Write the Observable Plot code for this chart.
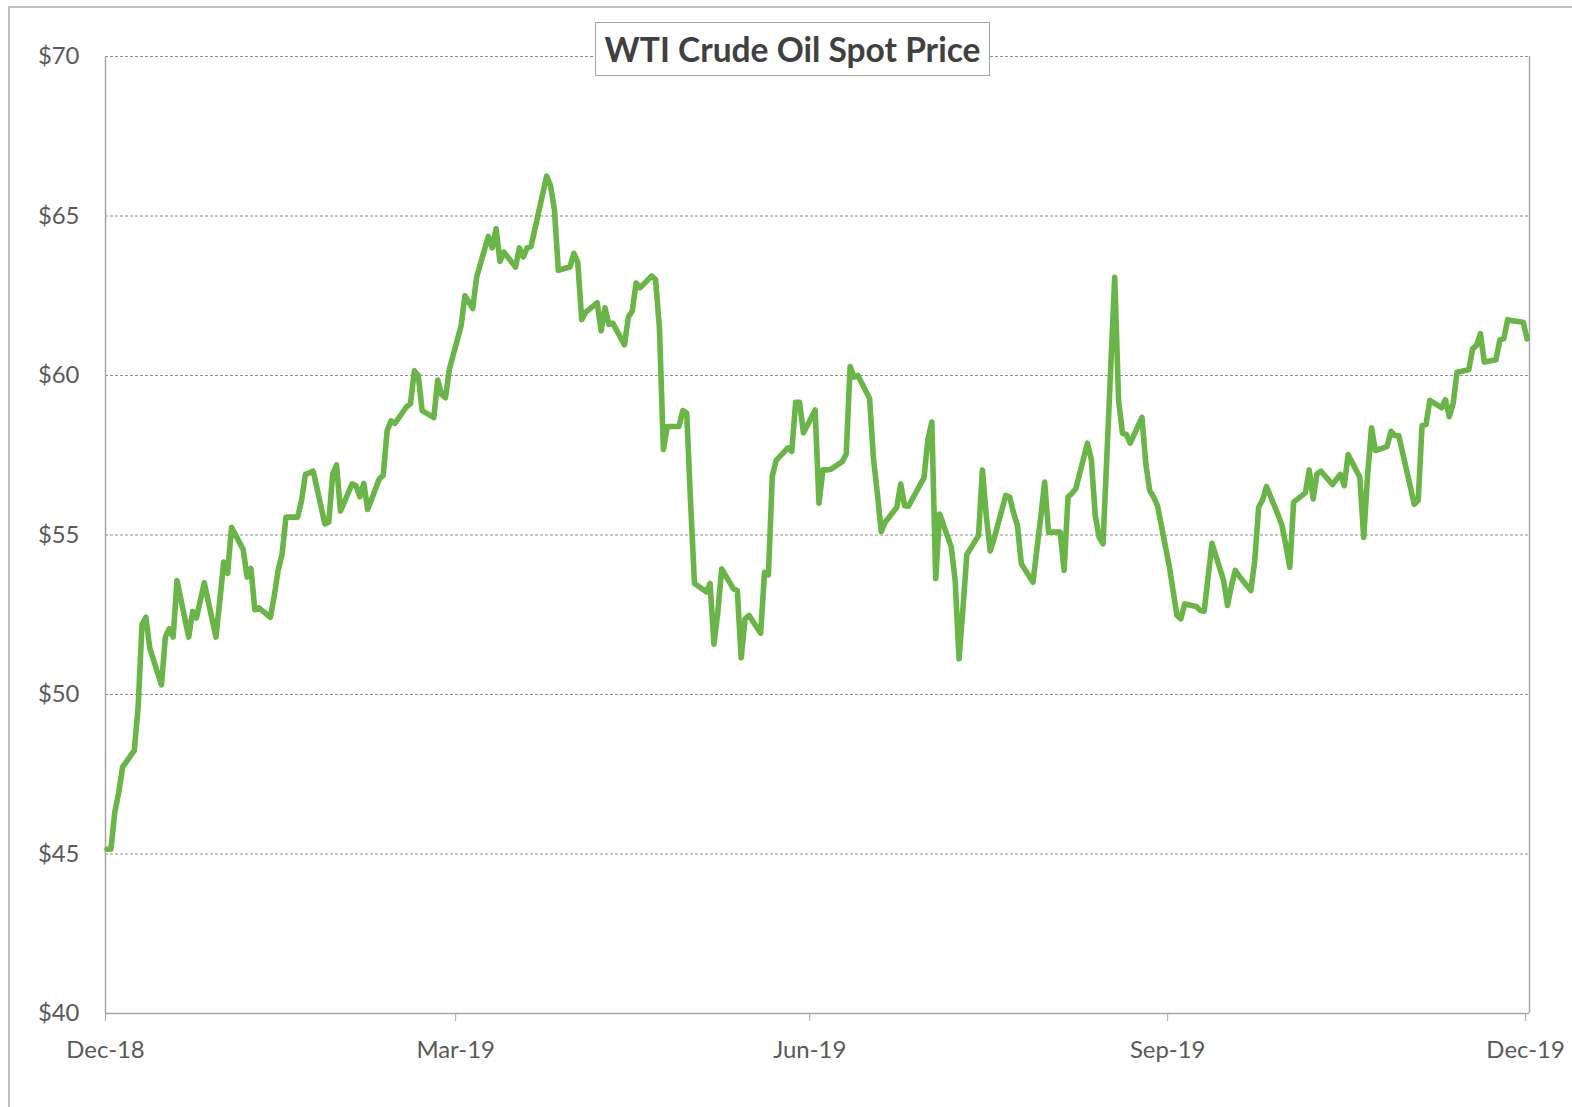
<!DOCTYPE html>
<html><head><meta charset="utf-8">
<script src="https://cdn.jsdelivr.net/npm/d3@7"></script>
<script src="https://cdn.jsdelivr.net/npm/@observablehq/plot@0.6"></script>
<style>
html,body{margin:0;padding:0;background:#fff;overflow:hidden}
#wrap{position:relative;width:1572px;height:1107px;overflow:hidden}
#frame{position:absolute;left:8px;top:6px;width:1700px;height:1300px;border-left:2px solid #bfbfbf;border-top:2px solid #bfbfbf;pointer-events:none}
#title{position:absolute;left:595px;top:22px;width:393px;height:52px;border:1px solid #a6a6a6;background:#fff;display:flex;align-items:center;justify-content:center;font-family:Lato,sans-serif;font-weight:700;color:#404040;white-space:nowrap}
</style></head><body>
<div id="wrap"><div id="chart"></div><div id="frame"></div><div id="title">WTI Crude Oil Spot Price</div></div>
<script>
const titleText = "WTI Crude Oil Spot Price";
const xDomain = [new Date("2018-12-31"), new Date("2020-01-01")];
const yDomain = [40, 70];
const yTicks = [40, 45, 50, 55, 60, 65, 70];
const xTickDates = ["2018-12-31", "2019-03-31", "2019-06-30", "2019-09-30", "2019-12-31"];

const dates = [
"2018-12-31","2019-01-01","2019-01-02","2019-01-03","2019-01-04","2019-01-07","2019-01-08","2019-01-09","2019-01-10","2019-01-11",
"2019-01-14","2019-01-15","2019-01-16","2019-01-17","2019-01-18","2019-01-21","2019-01-22","2019-01-23","2019-01-24","2019-01-25",
"2019-01-28","2019-01-29","2019-01-30","2019-01-31","2019-02-01","2019-02-04","2019-02-05","2019-02-06","2019-02-07","2019-02-08",
"2019-02-11","2019-02-12","2019-02-13","2019-02-14","2019-02-15","2019-02-18","2019-02-19","2019-02-20","2019-02-21","2019-02-22",
"2019-02-25","2019-02-26","2019-02-27","2019-02-28","2019-03-01","2019-03-04","2019-03-05","2019-03-06","2019-03-07","2019-03-08",
"2019-03-11","2019-03-12","2019-03-13","2019-03-14","2019-03-15","2019-03-18","2019-03-19","2019-03-20","2019-03-21","2019-03-22",
"2019-03-25","2019-03-26","2019-03-27","2019-03-28","2019-03-29","2019-04-01","2019-04-02","2019-04-03","2019-04-04","2019-04-05",
"2019-04-08","2019-04-09","2019-04-10","2019-04-11","2019-04-12","2019-04-15","2019-04-16","2019-04-17","2019-04-18","2019-04-19",
"2019-04-22","2019-04-23","2019-04-24","2019-04-25","2019-04-26","2019-04-29","2019-04-30","2019-05-01","2019-05-02","2019-05-03",
"2019-05-06","2019-05-07","2019-05-08","2019-05-09","2019-05-10","2019-05-13","2019-05-14","2019-05-15","2019-05-16","2019-05-17",
"2019-05-20","2019-05-21","2019-05-22","2019-05-23","2019-05-24","2019-05-27","2019-05-28","2019-05-29","2019-05-30","2019-05-31",
"2019-06-03","2019-06-04","2019-06-05","2019-06-06","2019-06-07","2019-06-10","2019-06-11","2019-06-12","2019-06-13","2019-06-14",
"2019-06-17","2019-06-18","2019-06-19","2019-06-20","2019-06-21","2019-06-24","2019-06-25","2019-06-26","2019-06-27","2019-06-28",
"2019-07-01","2019-07-02","2019-07-03","2019-07-04","2019-07-05","2019-07-08","2019-07-09","2019-07-10","2019-07-11","2019-07-12",
"2019-07-15","2019-07-16","2019-07-17","2019-07-18","2019-07-19","2019-07-22","2019-07-23","2019-07-24","2019-07-25","2019-07-26",
"2019-07-29","2019-07-30","2019-07-31","2019-08-01","2019-08-02","2019-08-05","2019-08-06","2019-08-07","2019-08-08","2019-08-09",
"2019-08-12","2019-08-13","2019-08-14","2019-08-15","2019-08-16","2019-08-19","2019-08-20","2019-08-21","2019-08-22","2019-08-23",
"2019-08-26","2019-08-27","2019-08-28","2019-08-29","2019-08-30","2019-09-02","2019-09-03","2019-09-04","2019-09-05","2019-09-06",
"2019-09-09","2019-09-10","2019-09-11","2019-09-12","2019-09-13","2019-09-16","2019-09-17","2019-09-18","2019-09-19","2019-09-20",
"2019-09-23","2019-09-24","2019-09-25","2019-09-26","2019-09-27","2019-09-30","2019-10-01","2019-10-02","2019-10-03","2019-10-04",
"2019-10-07","2019-10-08","2019-10-09","2019-10-10","2019-10-11","2019-10-14","2019-10-15","2019-10-16","2019-10-17","2019-10-18",
"2019-10-21","2019-10-22","2019-10-23","2019-10-24","2019-10-25","2019-10-28","2019-10-29","2019-10-30","2019-10-31","2019-11-01",
"2019-11-04","2019-11-05","2019-11-06","2019-11-07","2019-11-08","2019-11-11","2019-11-12","2019-11-13","2019-11-14","2019-11-15",
"2019-11-18","2019-11-19","2019-11-20","2019-11-21","2019-11-22","2019-11-25","2019-11-26","2019-11-27","2019-11-28","2019-12-02",
"2019-12-03","2019-12-04","2019-12-05","2019-12-06","2019-12-09","2019-12-10","2019-12-11","2019-12-12","2019-12-13","2019-12-16",
"2019-12-17","2019-12-18","2019-12-19","2019-12-20","2019-12-23","2019-12-24","2019-12-25","2019-12-26","2019-12-27","2019-12-30",
"2019-12-31"
];

const prices = [
45.15,45.15,46.31,46.92,47.72,48.24,49.6,52.2,52.42,51.45,
50.3,51.8,52.06,51.8,53.57,51.8,52.6,52.4,52.95,53.5,
51.8,52.95,54.15,53.8,55.24,54.55,53.68,53.95,52.66,52.72,
52.42,53.1,53.9,54.4,55.56,55.56,56.08,56.9,56.95,57.0,
55.35,55.4,56.9,57.2,55.75,56.6,56.55,56.2,56.62,55.8,
56.76,56.87,58.27,58.58,58.5,59.02,59.12,60.15,60.0,58.9,
58.68,59.86,59.4,59.3,60.2,61.55,62.5,62.3,62.1,63.08,
64.36,64.0,64.6,63.58,63.87,63.4,64.0,63.72,64.0,64.05,
65.7,66.25,65.95,65.2,63.3,63.4,63.83,63.55,61.75,61.98,
62.28,61.4,62.12,61.6,61.64,60.96,61.83,62.02,62.9,62.75,
63.12,63.0,61.46,57.68,58.4,58.4,58.9,58.82,56.0,53.48,
53.22,53.48,51.58,52.6,53.94,53.31,53.26,51.15,52.37,52.48,
51.92,53.83,53.75,56.85,57.34,57.73,57.62,59.16,59.16,58.2,
58.92,56.0,57.04,57.04,57.06,57.3,57.54,60.28,59.95,60.0,
59.28,57.4,56.3,55.1,55.4,55.87,56.6,55.92,55.9,56.13,
56.8,58.0,58.54,53.63,55.66,54.62,53.57,51.12,52.7,54.39,
54.98,57.04,55.6,54.5,54.88,56.24,56.19,55.7,55.3,54.1,
53.52,54.55,55.56,56.66,55.09,55.09,53.89,56.19,56.3,56.45,
57.88,57.36,55.61,54.93,54.72,63.08,59.22,58.19,58.15,57.88,
58.69,57.23,56.39,56.19,55.92,54.04,53.26,52.48,52.37,52.84,
52.76,52.63,52.61,53.68,54.74,53.57,52.79,53.41,53.89,53.71,
53.26,54.2,55.87,56.1,56.52,55.63,55.3,54.67,53.99,56.03,
56.32,57.04,56.13,56.92,57.0,56.58,56.75,56.9,56.55,57.52,
56.81,54.93,56.87,58.36,57.65,57.77,58.25,58.12,58.12,55.96,
56.08,58.43,58.46,59.22,58.99,59.24,58.71,59.13,60.1,60.18,
60.84,60.94,61.31,60.42,60.49,61.12,61.15,61.75,61.72,61.67,
61.15
];

const data = dates.map((d, i) => ({date: new Date(d), price: prices[i]}));

function fit(text, weight, target) {
  const c = document.createElement("canvas").getContext("2d");
  c.font = `${weight} 100px Lato`;
  return 100 * target / c.measureText(text).width;
}
const tickFont = fit("Dec-18", 400, 78.5);
const titleFont = fit(titleText, 700, 376);
const titleEl = document.getElementById("title");
titleEl.textContent = titleText;
titleEl.style.fontSize = titleFont + "px";

const chart = Plot.plot({
  width: 1572, height: 1107,
  marginLeft: 105, marginRight: 43, marginTop: 56, marginBottom: 94,
  style: {fontFamily: "Lato, sans-serif", color: "#595959", background: "transparent", overflow: "visible"},
  x: {type: "utc", domain: xDomain},
  y: {domain: yDomain},
  marks: [
    Plot.gridY(yTicks.filter(v => v > yDomain[0]), {stroke: "#8c8c8c", strokeOpacity: 1, strokeDasharray: "3,2", strokeWidth: 1}),
    Plot.ruleX(xDomain, {stroke: "#a6a6a6", strokeWidth: 1.5}),
    Plot.ruleY([yDomain[0]], {stroke: "#a6a6a6", strokeWidth: 1.5}),
    Plot.axisY({ticks: yTicks, tickSize: 0, tickPadding: 26, tickFormat: d => "$" + d, fontSize: tickFont, fill: "#595959", label: null}),
    Plot.axisX({ticks: xTickDates.map(d => new Date(d)), tickSize: 8, tickPadding: 20, tickFormat: d3.utcFormat("%b-%y"), fontSize: tickFont, stroke: "#a6a6a6", fill: "#595959", label: null}),
    Plot.line(data, {x: "date", y: "price", stroke: "#6ab547", strokeWidth: 5.6, strokeLinejoin: "round", strokeLinecap: "round", dx: 1.5})
  ]
});
document.getElementById("chart").appendChild(chart);
</script>
</body></html>
